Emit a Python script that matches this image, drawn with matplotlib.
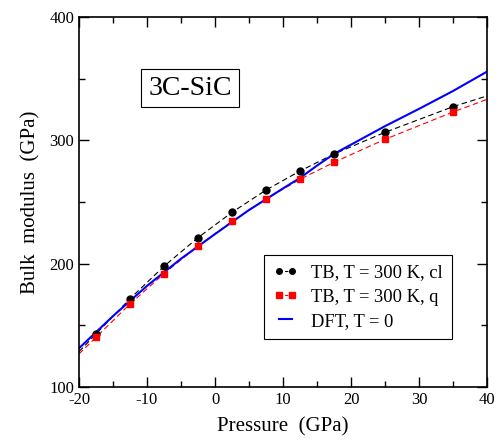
import matplotlib
matplotlib.use("Agg")
import matplotlib.pyplot as plt
from matplotlib.ticker import MultipleLocator

# pressure points (GPa)
p_pts = [-17.5, -12.5, -7.5, -2.5, 2.5, 7.5, 12.5, 17.5, 25, 35]
# bulk modulus, TB classical / quantum (GPa)
b_cl = [143.0, 171.6, 197.9, 221.1, 241.6, 259.7, 275.1, 288.9, 306.5, 327.3]
b_q = [140.3, 167.3, 191.9, 214.3, 234.3, 252.4, 268.4, 282.2, 300.8, 323.0]

# dashed fit curves, extended to the axis edges
p_fit = [-20, -17.5, -12.5, -7.5, -2.5, 2.5, 7.5, 12.5, 17.5, 25, 35, 40]
b_cl_fit = [128.6] + b_cl + [336.0]
b_q_fit = [126.8] + b_q + [333.2]

# DFT, T = 0
p_dft = [-20, -15, -10, -5, 0, 5, 10, 12.5, 15, 17.5, 20, 25, 30, 35, 40]
b_dft = [131.4, 157.5, 182.0, 204.0, 224.0, 243.5, 261.0, 269.5, 279.5, 289.0,
         296.5, 311.5, 325.5, 340.0, 355.7]

plt.rcParams["font.family"] = "Liberation Serif"
plt.rcParams["axes.unicode_minus"] = False

fig = plt.figure(figsize=(4.99, 4.41), dpi=100)
ax = fig.add_axes([79 / 499, 54 / 441, 408 / 499, 370 / 441])

ax.plot(p_fit, b_cl_fit, color="black", lw=0.8, ls=(0, (5, 3)))
ax.plot(p_fit, b_q_fit, color="red", lw=0.8, ls=(0, (5, 3)))
ax.plot(p_dft, b_dft, color="blue", lw=1.5)
ax.plot(p_pts, b_cl, "o", color="black", ms=5)
ax.plot(p_pts, b_q, "s", color="red", ms=4.5)

# legend handles
ax.plot([], [], "o", color="black", ms=4, ls=(0, (3, 2)), lw=0.8,
        label="TB, T = 300 K, cl")
ax.plot([], [], "s", color="red", ms=4, ls=(0, (3, 2)), lw=0.8,
        label="TB, T = 300 K, q")
ax.plot([], [], color="blue", lw=1.5, label="DFT, T = 0")
handles, labels = ax.get_legend_handles_labels()
leg = ax.legend(handles, labels, loc="upper left", bbox_to_anchor=(0.453, 0.357),
                borderaxespad=0, numpoints=2, fontsize=13.3, frameon=True,
                fancybox=False, edgecolor="black", framealpha=1,
                handlelength=1.3, borderpad=0.5, labelspacing=0.4,
                handletextpad=0.75)
leg.get_frame().set_linewidth(0.8)

ax.text(0.272, 0.808, "3C-SiC", transform=ax.transAxes, fontsize=20,
        ha="center", va="center",
        bbox=dict(boxstyle="square,pad=0.25", fc="white", ec="black", lw=0.8))

ax.set_xlim(-20, 40)
ax.set_ylim(100, 400)
ax.xaxis.set_major_locator(MultipleLocator(10))
ax.xaxis.set_minor_locator(MultipleLocator(5))
ax.yaxis.set_major_locator(MultipleLocator(100))
ax.yaxis.set_minor_locator(MultipleLocator(50))
ax.tick_params(which="both", direction="in", top=True, right=True, labelsize=12)
ax.tick_params(which="major", length=7, width=1)
ax.tick_params(which="minor", length=4, width=1)
for s in ax.spines.values():
    s.set_linewidth(1.2)

ax.set_xlabel("Pressure  (GPa)", fontsize=15, labelpad=7)
ax.set_ylabel("Bulk  modulus  (GPa)", fontsize=15, labelpad=6)

fig.savefig("out.png", dpi=100)
